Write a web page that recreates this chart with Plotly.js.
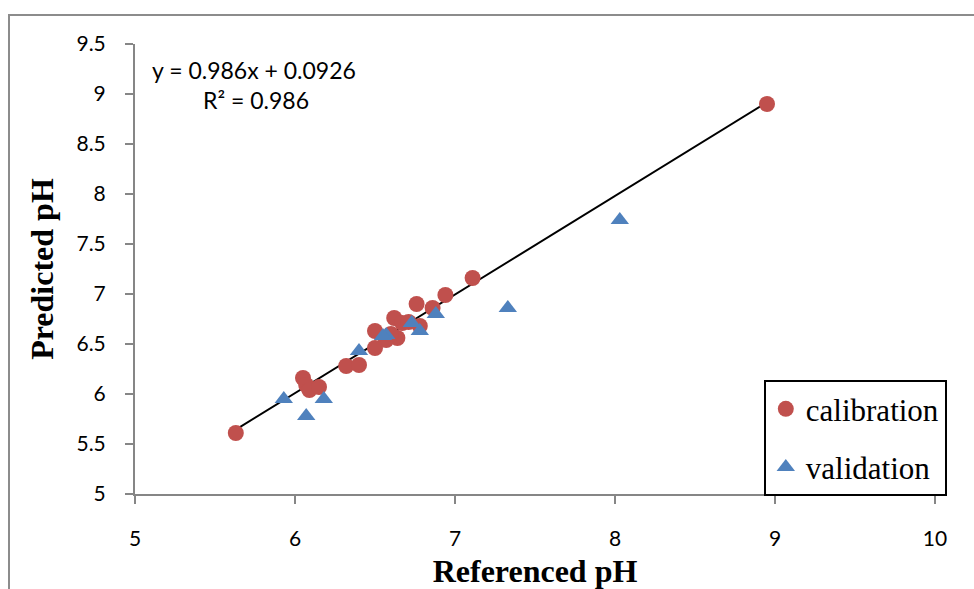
<!DOCTYPE html>
<html>
<head>
<meta charset="utf-8">
<script src="https://cdn.plot.ly/plotly-3.0.1.min.js"></script>
<style>html,body{margin:0;padding:0;background:#fff;}#chart{width:974px;height:589px;}</style>
</head>
<body>
<div id="chart"></div>
<script>
// Calibration set (Referenced pH, Predicted pH)
const calX = [5.63, 8.95, 7.11, 6.94, 6.76, 6.86, 6.78, 6.62, 6.67, 6.50, 6.64, 6.57, 6.50, 6.32, 6.40, 6.05, 6.07, 6.09, 6.15, 6.71, 6.60];
const calY = [5.61, 8.90, 7.16, 6.99, 6.90, 6.86, 6.68, 6.76, 6.71, 6.63, 6.56, 6.54, 6.46, 6.28, 6.29, 6.16, 6.09, 6.04, 6.07, 6.72, 6.60];
// Validation set
const valX = [8.03, 7.33, 6.88, 6.78, 6.73, 6.57, 6.55, 6.40, 5.93, 6.18, 6.07];
const valY = [7.74, 6.86, 6.80, 6.63, 6.71, 6.59, 6.58, 6.43, 5.95, 5.95, 5.78];
// Linear trendline printed on the chart
const slope = 0.986;
const intercept = 0.0926;
const r2 = 0.986;
const trendX = [Math.min(...calX), Math.max(...calX)];
const trendY = trendX.map(v => slope * v + intercept);

const xTicks = [5, 6, 7, 8, 9, 10];
const yTicks = [5, 5.5, 6, 6.5, 7, 7.5, 8, 8.5, 9, 9.5];

const serif = 'Liberation Serif, Times New Roman, serif';
const tickFont = {family: 'Lato, Open Sans, sans-serif', size: 21, color: '#000'};
const eqFont = {family: 'Lato, Open Sans, sans-serif', size: 23, color: '#000'};
const titleFont = {family: serif, size: 32, color: '#000', weight: 'bold'};

const traces = [
  {x: trendX, y: trendY, mode: 'lines', line: {color: '#000', width: 2}, showlegend: false, hoverinfo: 'skip'},
  {x: calX, y: calY, mode: 'markers', name: 'calibration', legendgroup: 'a',
   marker: {symbol: 'circle', size: 16, color: '#C0504D'}},
  {x: valX, y: valY, mode: 'markers', name: 'validation', legendgroup: 'b',
   marker: {symbol: 'triangle-up', size: 16, color: '#4F81BD'}}
];

const axisCommon = {
  showgrid: false, zeroline: false, showline: true, linecolor: '#868686', linewidth: 2,
  ticks: 'outside', ticklen: 8, tickwidth: 2, tickcolor: '#868686', tickfont: tickFont,
  automargin: false, fixedrange: true
};

const layout = {
  width: 974, height: 589,
  font: {family: serif, color: '#000'},
  margin: {l: 135, r: 39, t: 44, b: 95},
  paper_bgcolor: '#fff', plot_bgcolor: '#fff',
  xaxis: Object.assign({}, axisCommon, {
    range: [5, 10], tickvals: xTicks, ticktext: xTicks.map(String),
    ticklabelstandoff: 17,
    title: {text: 'Referenced pH', font: titleFont, standoff: 14}
  }),
  yaxis: Object.assign({}, axisCommon, {
    range: [5, 9.5], tickvals: yTicks, ticktext: yTicks.map(String),
    ticklabelstandoff: 15,
    title: {text: 'Predicted pH', font: titleFont, standoff: 13}
  }),
  legend: {
    x: 0.786, xanchor: 'left', y: 0.253, yanchor: 'top',
    bordercolor: '#000', borderwidth: 2, bgcolor: '#fff',
    font: {family: serif, size: 31, color: '#000'},
    traceorder: 'grouped', tracegroupgap: 15, itemwidth: 30
  },
  annotations: [
    {xref: 'paper', yref: 'paper', x: (254 - 135) / 800, y: (494 - 70) / 450, xanchor: 'center', yanchor: 'middle',
     text: 'y = ' + slope + 'x + ' + intercept, showarrow: false, font: eqFont},
    {xref: 'paper', yref: 'paper', x: (256 - 135) / 800, y: (494 - 100) / 450, xanchor: 'center', yanchor: 'middle',
     text: 'R² = ' + r2, showarrow: false, font: eqFont}
  ],
  shapes: [
    {type: 'rect', xref: 'paper', yref: 'paper', x0: (9 - 135) / 800, x1: 1.2, y0: -0.5, y1: (494 - 15) / 450,
     line: {color: '#8c8c8c', width: 2}, fillcolor: 'rgba(0,0,0,0)', layer: 'below'}
  ]
};

Plotly.newPlot('chart', traces, layout, {displayModeBar: false, staticPlot: true});
</script>
</body>
</html>
